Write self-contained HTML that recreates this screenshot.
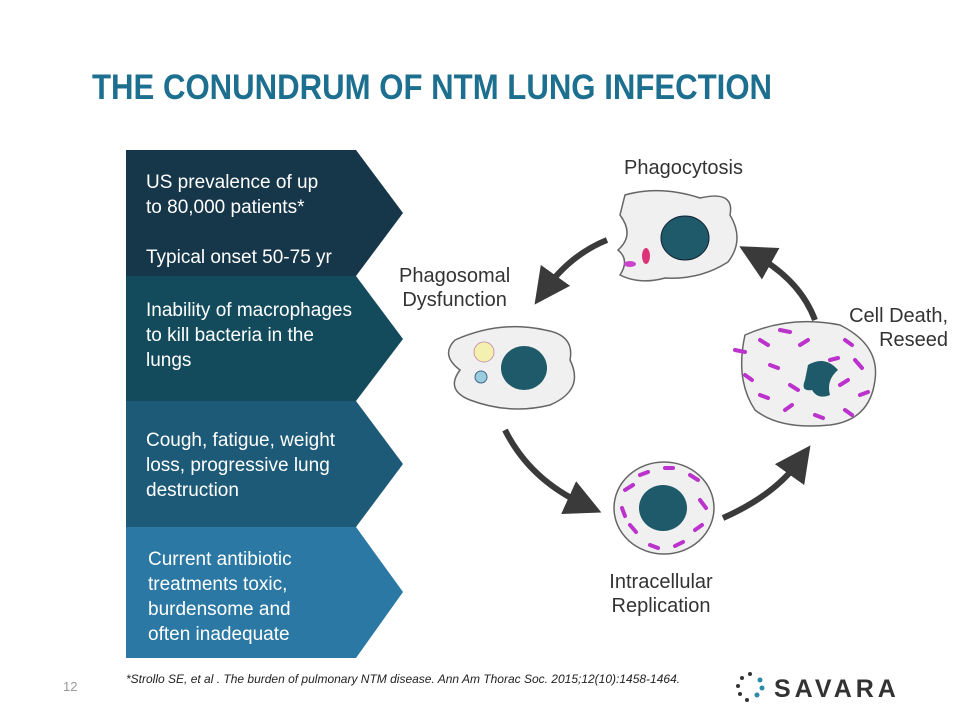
<!DOCTYPE html>
<html><head><meta charset="utf-8"><style>
body{margin:0;width:960px;height:720px;background:#fff;overflow:hidden;position:relative;font-family:"Liberation Sans",sans-serif}
.t{position:absolute;color:#fff;font-size:19px;line-height:25px}
.l{position:absolute;color:#333;font-size:20px;line-height:24px}
</style></head><body>
<div style="position:absolute;left:92px;top:68px;font-size:35px;font-weight:bold;color:#1d6f8f;transform:scaleX(0.89);transform-origin:0 0;white-space:nowrap">THE CONUNDRUM OF NTM LUNG INFECTION</div>
<svg width="960" height="720" style="position:absolute;left:0;top:0">
<polygon points="126,527 356,527 403,592 356,658 126,658" fill="#2a78a3"/>
<polygon points="126,401 356,401 403,464 356,527 126,527" fill="#1d5a77"/>
<polygon points="126,276 356,276 403,339 356,401 126,401" fill="#134b5d"/>
<polygon points="126,150 356,150 403,213 356,276 126,276" fill="#163649"/>
<defs><marker id="a" markerWidth="6" markerHeight="6" refX="3" refY="3" orient="auto"><path d="M0,0L6,3L0,6z" fill="#3a3a3a"/></marker></defs>
<path d="M607,240 Q570,255 545,290" stroke="#3a3a3a" stroke-width="6" fill="none" marker-end="url(#a)"/>
<path d="M505,430 Q530,480 585,505" stroke="#3a3a3a" stroke-width="6" fill="none" marker-end="url(#a)"/>
<path d="M723,518 Q775,495 800,460" stroke="#3a3a3a" stroke-width="6" fill="none" marker-end="url(#a)"/>
<path d="M815,320 Q800,280 755,255" stroke="#3a3a3a" stroke-width="6" fill="none" marker-end="url(#a)"/>
<path d="M625,195 Q660,185 700,198 Q735,190 730,215 Q745,240 728,262 Q700,280 665,278 Q640,285 620,275 Q630,260 618,250 Q635,235 620,215 Z" fill="#f0f0f0" stroke="#666" stroke-width="1.5"/>
<ellipse cx="685" cy="238" rx="24" ry="22" fill="#1f5a6a" stroke="#123" />
<ellipse cx="646" cy="256" rx="4" ry="8" fill="#d37" />
<ellipse cx="630" cy="264" rx="6" ry="3" fill="#c4c"/>
<path d="M455,340 Q500,320 545,330 Q575,335 570,360 Q585,390 550,405 Q510,415 470,400 Q445,390 460,370 Q440,355 455,340Z" fill="#f0f0f0" stroke="#666" stroke-width="1.5"/>
<ellipse cx="524" cy="368" rx="23" ry="22" fill="#1f5a6a"/>
<circle cx="484" cy="352" r="10" fill="#f4f0b0" stroke="#c9a"/>
<circle cx="481" cy="377" r="6" fill="#9cd" stroke="#468"/>
<ellipse cx="664" cy="508" rx="50" ry="46" fill="#f0f0f0" stroke="#666" stroke-width="1.5"/>
<g stroke="#b3c" stroke-width="4" stroke-linecap="round">
<line x1="625" y1="490" x2="633" y2="485"/><line x1="640" y1="475" x2="648" y2="472"/><line x1="690" y1="475" x2="698" y2="480"/><line x1="700" y1="500" x2="706" y2="508"/><line x1="695" y1="530" x2="702" y2="525"/><line x1="630" y1="525" x2="636" y2="532"/><line x1="650" y1="545" x2="658" y2="548"/><line x1="675" y1="546" x2="683" y2="542"/><line x1="622" y1="508" x2="625" y2="516"/><line x1="665" y1="468" x2="673" y2="468"/>
</g>
<ellipse cx="663" cy="508" rx="24" ry="23" fill="#1f5a6a"/>
<path d="M745,335 Q790,315 840,325 Q880,345 875,380 Q870,420 830,425 Q780,430 755,410 Q735,380 745,335Z" fill="#f0f0f0" stroke="#666" stroke-width="1.5"/>
<g stroke="#b3c" stroke-width="4" stroke-linecap="round">
<line x1="735" y1="350" x2="745" y2="352"/><line x1="760" y1="340" x2="768" y2="345"/><line x1="780" y1="330" x2="790" y2="332"/><line x1="800" y1="345" x2="808" y2="340"/><line x1="845" y1="340" x2="852" y2="345"/><line x1="855" y1="360" x2="862" y2="368"/><line x1="860" y1="395" x2="868" y2="392"/><line x1="845" y1="410" x2="852" y2="415"/><line x1="815" y1="415" x2="823" y2="418"/><line x1="785" y1="410" x2="792" y2="405"/><line x1="760" y1="395" x2="768" y2="398"/><line x1="745" y1="375" x2="752" y2="380"/><line x1="770" y1="365" x2="778" y2="368"/><line x1="790" y1="385" x2="798" y2="390"/><line x1="840" y1="385" x2="848" y2="380"/><line x1="830" y1="360" x2="838" y2="358"/>
</g>
<path d="M808,365 Q825,355 838,370 Q826,380 830,395 Q818,400 812,390 Q800,392 805,380Z" fill="#1f5a6a"/>
<g fill="#333"><circle cx="742" cy="678" r="2"/><circle cx="738" cy="686" r="2"/><circle cx="740" cy="694" r="2"/><circle cx="747" cy="700" r="2"/><circle cx="750" cy="674" r="2"/></g>
<g fill="#2a8aa8"><circle cx="760" cy="680" r="2.5"/><circle cx="762" cy="688" r="2.5"/><circle cx="757" cy="695" r="2.5"/></g>
</svg>
<div class="t" style="left:146px;top:170px">US prevalence of up<br>to 80,000 patients*<br><br>Typical onset 50-75 yr</div>
<div class="t" style="left:146px;top:298px">Inability of macrophages<br>to kill bacteria in the<br>lungs</div>
<div class="t" style="left:146px;top:428px">Cough, fatigue, weight<br>loss, progressive lung<br>destruction</div>
<div class="t" style="left:148px;top:547px">Current antibiotic<br>treatments toxic,<br>burdensome and<br>often inadequate</div>
<div class="l" style="left:624px;top:156px">Phagocytosis</div>
<div class="l" style="left:399px;top:264px;text-align:center">Phagosomal<br>Dysfunction</div>
<div class="l" style="left:838px;top:304px;text-align:right;width:110px">Cell Death,<br>Reseed</div>
<div class="l" style="left:600px;top:570px;text-align:center;width:122px">Intracellular<br>Replication</div>
<div style="position:absolute;left:63px;top:679px;font-size:13px;color:#999">12</div>
<div style="position:absolute;left:126px;top:672px;font-size:12px;font-style:italic;color:#222">*Strollo SE, et al . The burden of pulmonary NTM disease. Ann Am Thorac Soc. 2015;12(10):1458-1464.</div>
<div style="position:absolute;left:774px;top:675px;font-size:25px;font-weight:bold;color:#333;letter-spacing:4px">SAVARA</div>
</body></html>
